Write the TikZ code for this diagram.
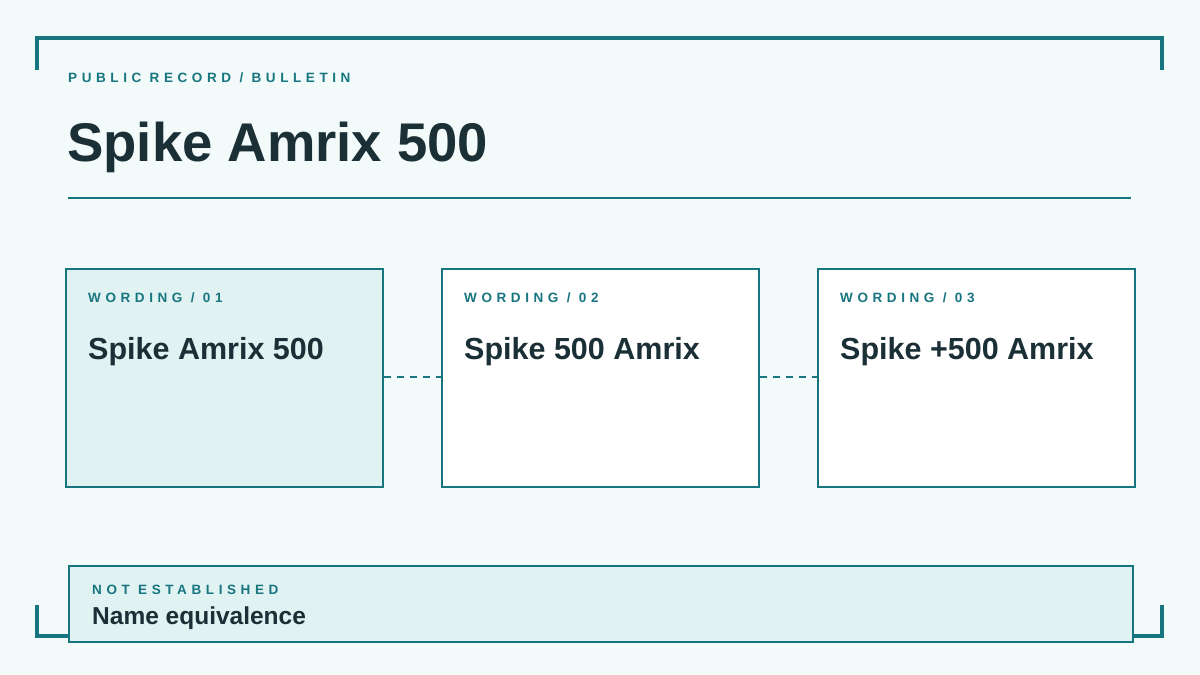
\documentclass[tikz,border=0pt]{standalone}
\usepackage{fontspec}
\setmainfont{Liberation Sans}
\newfontfamily\spaced[LetterSpace=34]{Liberation Sans}
\definecolor{bg}{HTML}{F2FAFA}
\definecolor{tealc}{HTML}{177580}
\definecolor{ink}{HTML}{1B2F36}
\definecolor{lite}{HTML}{E0F2F2}
\begin{document}
\begin{tikzpicture}[x=1pt,y=-1pt,
  box/.style={draw=tealc,line width=2pt},
  kicker/.style={anchor=base west,text=tealc,font=\spaced\bfseries\fontsize{13.5}{15}\selectfont,inner sep=0},
  wording/.style={anchor=base west,text=ink,font=\bfseries\fontsize{30.5}{33}\selectfont,inner sep=0},
  conn/.style={draw=tealc,line width=2pt,dash pattern=on 7pt off 6pt}]
\fill[bg] (0,0) rectangle (1200,675);
\useasboundingbox (0,0) rectangle (1200,675);
\draw[tealc,line width=4pt] (37,70) -- (37,38) -- (1162,38) -- (1162,70);
\draw[tealc,line width=4pt] (37,605) -- (37,636) -- (1162,636) -- (1162,605);
\node[kicker] (kick) at (68,82) {PUBLIC RECORD / BULLETIN};
\node[anchor=base west,text=ink,font=\bfseries\fontsize{54.5}{58}\selectfont,inner sep=0] (title) at (67,161) {Spike Amrix 500};
\draw[tealc,line width=2pt] (68,198) -- (1131,198);
\node[box,fill=lite,minimum width=317pt,minimum height=218pt,anchor=north west] (b1) at (65,268) {};
\node[box,fill=white,minimum width=317pt,minimum height=218pt,anchor=north west] (b2) at (441,268) {};
\node[box,fill=white,minimum width=317pt,minimum height=218pt,anchor=north west] (b3) at (817,268) {};
\draw[conn] (b1.east |- 0,377) -- (b2.west |- 0,377);
\draw[conn] (b2.east |- 0,377) -- (b3.west |- 0,377);
\node[kicker] (k1) at (88,302) {WORDING / 01};
\node[kicker] (k2) at (464,302) {WORDING / 02};
\node[kicker] (k3) at (840,302) {WORDING / 03};
\node[wording] (n1) at (88,359) {Spike Amrix 500};
\node[wording] (n2) at (464,359) {Spike 500 Amrix};
\node[wording] (n3) at (840,359) {Spike +500 Amrix};
\node[box,fill=lite,minimum width=1064pt,minimum height=76pt,anchor=north west] (nb) at (68,565) {};
\node[kicker] (nk) at (92,594) {NOT ESTABLISHED};
\node[anchor=base west,text=ink,font=\bfseries\fontsize{24.5}{27}\selectfont,inner sep=0] (nt) at (92,624) {Name equivalence};
\end{tikzpicture}
\end{document}
